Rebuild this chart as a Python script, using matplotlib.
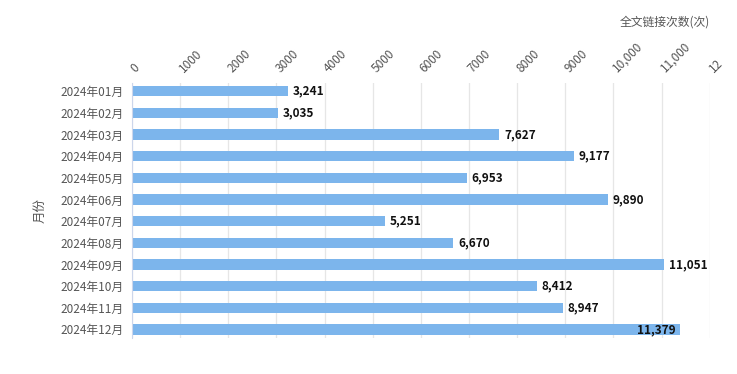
import numpy as np
import matplotlib.pyplot as plt
import matplotlib.transforms as mtransforms

plt.rcParams['font.family'] = ['Noto Sans CJK SC', 'DejaVu Sans']

months = ['2024年01月', '2024年02月', '2024年03月', '2024年04月', '2024年05月', '2024年06月',
          '2024年07月', '2024年08月', '2024年09月', '2024年10月', '2024年11月', '2024年12月']
counts = [3241, 3035, 7627, 9177, 6953, 9890, 5251, 6670, 11051, 8412, 8947, 11379]
xticks = [0, 1000, 2000, 3000, 4000, 5000, 6000, 7000, 8000, 9000, 10000, 11000, 12000]
xticklabels = ['0', '1000', '2000', '3000', '4000', '5000', '6000', '7000', '8000', '9000',
               '10,000', '11,000', '12']

fig = plt.figure(figsize=(7.37, 3.74), dpi=100)
ax = fig.add_axes([0.179, 0.096, 0.784, 0.682])

y = np.arange(len(months))
ax.barh(y, counts, height=0.48, color='#7cb5ec', zorder=2)

for yi, v in zip(y, counts):
    txt = f'{v:,}'
    if v > 11200:
        ax.text(v - 80, yi, txt, ha='right', va='center', fontsize=8.5,
                fontweight='bold', color='#111111', zorder=3)
    else:
        ax.text(v + 100, yi, txt, ha='left', va='center', fontsize=8.5,
                fontweight='bold', color='#111111', zorder=3)

ax.set_xlim(0, 12000)
ax.set_ylim(11.4, -0.38)
ax.set_yticks(y)
ax.set_yticklabels(months, fontsize=8.5, color='#555555')
ax.tick_params(axis='y', length=0, pad=6)

ax.xaxis.tick_top()
ax.set_xticks(xticks)
ax.set_xticklabels(xticklabels, fontsize=8.5, color='#555555')
ax.tick_params(axis='x', length=0, pad=6)
shift = mtransforms.ScaledTranslation(6 / 100, 0, fig.dpi_scale_trans)
for lbl in ax.get_xticklabels():
    lbl.set_rotation(45)
    lbl.set_ha('left')
    lbl.set_rotation_mode('anchor')
    lbl.set_transform(lbl.get_transform() + shift)

ax.grid(axis='x', color='#e6e6e6', linewidth=0.9, zorder=0)
for s in ['top', 'right', 'bottom']:
    ax.spines[s].set_visible(False)
ax.spines['left'].set_color('#ccd6eb')

ax.set_ylabel('月份', fontsize=9, color='#555555', labelpad=10)
fig.text(0.963, 0.94, '全文链接次数(次)', ha='right', va='center', fontsize=8.5, color='#555555')

fig.savefig('out.png', dpi=100)
